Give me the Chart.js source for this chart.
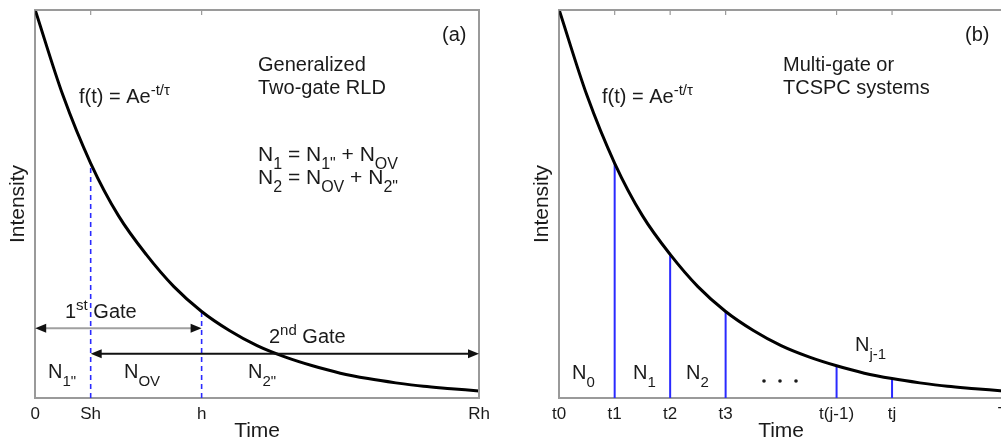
<!DOCTYPE html>
<html>
<head>
<meta charset="utf-8">
<title>Two-gate RLD vs multi-gate decay</title>
<script src="https://cdn.jsdelivr.net/npm/chart.js@4/dist/chart.umd.min.js"></script>
<style>
  html, body { margin: 0; padding: 0; background: #fff; overflow: hidden; width: 1001px; height: 441px; }
  #wrapA { position: absolute; left: 0; top: 0; }
  #wrapB { position: absolute; left: 500px; top: 0; }
</style>
</head>
<body>
<div id="wrapA"><canvas id="chartA" width="500" height="441"></canvas></div>
<div id="wrapB"><canvas id="chartB" width="520" height="441"></canvas></div>
<script>
// ---- Data ----
const decayTimes     = [0, 0.5, 1, 1.5, 2, 2.5, 3, 3.5, 4, 4.5, 5, 5.5, 6, 6.5, 7, 7.5, 8];
const decayIntensity = [1.000, 0.780, 0.605, 0.470, 0.370, 0.287, 0.223, 0.174, 0.135, 0.106, 0.083, 0.064, 0.050, 0.039, 0.030, 0.024, 0.018];

// panel (a): generalized two-gate RLD
const gatesA      = [1, 3];                 // Sh, h
const ticksA      = [0, 1, 3, 8];
const tickLabelsA = ['0', 'Sh', 'h', 'Rh'];
const gate1Span   = [0, 3];                 // 1st gate: 0 .. h
const gate2Span   = [1, 8];                 // 2nd gate: Sh .. Rh

// panel (b): multi-gate / TCSPC
const gatesB      = [1, 2, 3, 5, 6];
const ticksB      = [0, 1, 2, 3, 5, 6, 8];
const tickLabelsB = ['t0', 't1', 't2', 't3', 't(j-1)', 'tj', 'T'];

// ---- Styling ----
const FONT = "'Liberation Sans', Arial, Helvetica, sans-serif";
const frameColor = '#9a9a9a';
const gateBlue = '#2a2aff';
const inkColor = '#1a1a1a';
Chart.defaults.font.family = FONT;
Chart.defaults.color = inkColor;

const curvePoints = decayTimes.map((t, i) => ({ x: t, y: decayIntensity[i] }));
const heightAt = t => decayIntensity[decayTimes.indexOf(t)];
const gateLine = (t, dashed) => ({
  data: [{ x: t, y: 0 }, { x: t, y: heightAt(t) }],
  borderColor: gateBlue, borderWidth: dashed ? 1.6 : 2,
  borderDash: dashed ? [5, 4] : [], pointRadius: 0
});

// rich text: parts = [[text, ''|'sub'|'sup'], ...]
function drawRich(ctx, x, y, parts, size) {
  let cx = x;
  parts.forEach(([txt, mode]) => {
    const fs = mode ? Math.round(size * 0.76) : size;
    const dy = mode === 'sub' ? size * 0.38 : mode === 'sup' ? -size * 0.42 : 0;
    ctx.font = fs + 'px ' + FONT;
    ctx.fillText(txt, cx, y + dy);
    cx += ctx.measureText(txt).width;
  });
}

function drawArrow(ctx, x1, x2, y, lineColor) {
  const head = 11, half = 4.5;
  ctx.strokeStyle = lineColor; ctx.lineWidth = 2;
  ctx.beginPath(); ctx.moveTo(x1 + head - 1, y); ctx.lineTo(x2 - head + 1, y); ctx.stroke();
  ctx.fillStyle = '#111';
  ctx.beginPath(); ctx.moveTo(x1, y); ctx.lineTo(x1 + head, y - half); ctx.lineTo(x1 + head, y + half); ctx.closePath(); ctx.fill();
  ctx.beginPath(); ctx.moveTo(x2, y); ctx.lineTo(x2 - head, y - half); ctx.lineTo(x2 - head, y + half); ctx.closePath(); ctx.fill();
}

// ---- Frame (top/right borders + inward ticks at top) ----
const framePlugin = {
  id: 'frame',
  afterDatasetsDraw(chart, args, opts) {
    const { ctx, chartArea: a, scales: { x } } = chart;
    ctx.save();
    ctx.strokeStyle = frameColor; ctx.lineWidth = 2;
    ctx.beginPath();
    ctx.moveTo(a.left, a.top); ctx.lineTo(a.right, a.top); ctx.lineTo(a.right, a.bottom);
    ctx.stroke();
    ctx.lineWidth = 1.2;
    (opts.topTicks || []).forEach(v => {
      const px = x.getPixelForValue(v);
      ctx.beginPath(); ctx.moveTo(px, a.top); ctx.lineTo(px, a.top + 5); ctx.stroke();
    });
    ctx.restore();
  }
};

// ---- Annotations ----
const notesPlugin = {
  id: 'notes',
  afterDraw(chart, args, opts) {
    const { ctx, scales: { x, y } } = chart;
    ctx.save();
    ctx.textBaseline = 'alphabetic';
    ctx.textAlign = 'left';
    (opts.arrows || []).forEach(ar => {
      drawArrow(ctx, x.getPixelForValue(ar.from), x.getPixelForValue(ar.to), y.getPixelForValue(ar.level), ar.color);
    });
    (opts.texts || []).forEach(t => {
      ctx.fillStyle = inkColor;
      drawRich(ctx, t.x, t.y, t.parts, t.size || 20);
    });
    (opts.dots || []).forEach(d => {
      ctx.fillStyle = inkColor;
      ctx.beginPath(); ctx.arc(d[0], d[1], 1.8, 0, Math.PI * 2); ctx.fill();
    });
    ctx.restore();
  }
};

function makeScales(ticks, labels) {
  return {
    x: {
      type: 'linear', min: 0, max: 8,
      afterBuildTicks: s => { s.ticks = ticks.map(v => ({ value: v })); },
      ticks: {
        autoSkip: false, maxRotation: 0, padding: 8,
        font: { size: 17, lineHeight: 1.0 }, color: inkColor,
        callback: v => labels[ticks.indexOf(v)]
      },
      grid: { display: false, drawTicks: false },
      border: { display: true, color: frameColor, width: 2 },
      title: { display: true, text: 'Time', color: inkColor, font: { size: 21, lineHeight: 1.0 }, padding: { top: -10, bottom: -1 } }
    },
    y: {
      min: 0, max: 1,
      ticks: { display: false },
      grid: { display: false, drawTicks: false },
      border: { display: true, color: frameColor, width: 2 },
      title: { display: true, text: 'Intensity', color: inkColor, font: { size: 21, lineHeight: 1.2 }, padding: { top: 4, bottom: 4 } }
    }
  };
}

const formula = [['f(t) = Ae', ''], ['-t/τ', 'sup']];

// ---- Panel (a) ----
new Chart(document.getElementById('chartA'), {
  type: 'line',
  data: {
    datasets: [
      { data: curvePoints, borderColor: '#000', borderWidth: 3, pointRadius: 0, cubicInterpolationMode: 'monotone' },
      ...gatesA.map(t => gateLine(t, true))
    ]
  },
  options: {
    responsive: false, animation: false, events: [],
    layout: { padding: { top: 10, right: 21, bottom: 0, left: 2 } },
    plugins: {
      legend: { display: false }, tooltip: { enabled: false },
      frame: { topTicks: gatesA },
      notes: {
        arrows: [
          { from: gate1Span[0], to: gate1Span[1], level: 0.18, color: '#a0a0a0' },
          { from: gate2Span[0], to: gate2Span[1], level: 0.114, color: '#111' }
        ],
        texts: [
          { x: 442, y: 41, parts: [['(a)', '']] },
          { x: 258, y: 71, parts: [['Generalized', '']] },
          { x: 258, y: 94, parts: [['Two-gate RLD', '']] },
          { x: 79, y: 103, parts: formula },
          { x: 258, y: 161, size: 21, parts: [['N', ''], ['1', 'sub'], [' = N', ''], ['1"', 'sub'], [' + N', ''], ['OV', 'sub']] },
          { x: 258, y: 184, size: 21, parts: [['N', ''], ['2', 'sub'], [' = N', ''], ['OV', 'sub'], [' + N', ''], ['2"', 'sub']] },
          { x: 65, y: 318, parts: [['1', ''], ['st', 'sup'], [' Gate', '']] },
          { x: 269, y: 343, parts: [['2', ''], ['nd', 'sup'], [' Gate', '']] },
          { x: 48, y: 378, parts: [['N', ''], ['1"', 'sub']] },
          { x: 124, y: 378, parts: [['N', ''], ['OV', 'sub']] },
          { x: 248, y: 378, parts: [['N', ''], ['2"', 'sub']] }
        ]
      }
    },
    scales: makeScales(ticksA, tickLabelsA)
  },
  plugins: [framePlugin, notesPlugin]
});

// ---- Panel (b) ----
new Chart(document.getElementById('chartB'), {
  type: 'line',
  data: {
    datasets: [
      { data: curvePoints, borderColor: '#000', borderWidth: 3, pointRadius: 0, cubicInterpolationMode: 'monotone' },
      ...gatesB.map(t => gateLine(t, false))
    ]
  },
  options: {
    responsive: false, animation: false, events: [],
    layout: { padding: { top: 10, right: 17, bottom: 0, left: 26 } },
    plugins: {
      legend: { display: false }, tooltip: { enabled: false },
      frame: { topTicks: gatesB.concat([8]) },
      notes: {
        texts: [
          { x: 465, y: 41, parts: [['(b)', '']] },
          { x: 283, y: 71, parts: [['Multi-gate or', '']] },
          { x: 283, y: 94, parts: [['TCSPC systems', '']] },
          { x: 102, y: 103, parts: formula },
          { x: 72, y: 379, parts: [['N', ''], ['0', 'sub']] },
          { x: 133, y: 379, parts: [['N', ''], ['1', 'sub']] },
          { x: 186, y: 379, parts: [['N', ''], ['2', 'sub']] },
          { x: 355, y: 351, parts: [['N', ''], ['j-1', 'sub']] }
        ],
        dots: [[264, 381], [280, 381], [296, 381]]
      }
    },
    scales: makeScales(ticksB, tickLabelsB)
  },
  plugins: [framePlugin, notesPlugin]
});
</script>
</body>
</html>
